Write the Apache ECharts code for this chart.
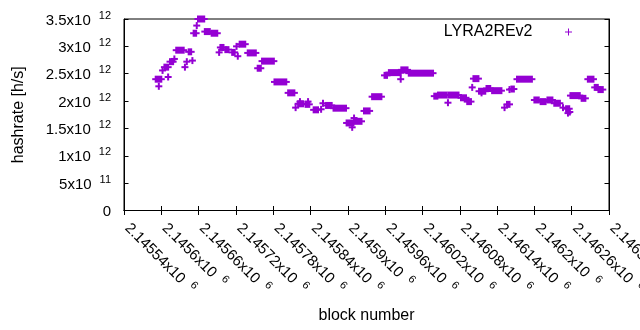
<!DOCTYPE html>
<html>
<head>
<meta charset="utf-8">
<script src="https://cdn.jsdelivr.net/npm/echarts@6/dist/echarts.min.js"></script>
<style>
  html, body { margin: 0; padding: 0; background: #fff; }
  #chart { width: 640px; height: 330px; }
</style>
</head>
<body>
<div id="chart"></div>
<script>
// runs of consecutive blocks that share the same hashrate
const runStart = [2145591, 2145605, 2145614, 2145624, 2145644, 2145652, 2145659, 2145670, 2145681, 2145695,
  2145703, 2145714, 2145726, 2145739, 2145755, 2145762, 2145782, 2145804, 2145820, 2145832,
  2145845, 2145865, 2145877, 2145898, 2145911, 2145926, 2145939, 2145959, 2145966, 2145986,
  2145998, 2146039, 2146045, 2146062, 2146082, 2146092, 2146102, 2146111, 2146123, 2146132,
  2146156, 2146163, 2146172, 2146200, 2146210, 2146221, 2146232, 2146251, 2146258, 2146276,
  2146286, 2146297, 2146303]
const runEnd = [2145600, 2145611, 2145619, 2145636, 2145648, 2145656, 2145669, 2145678, 2145690, 2145700,
  2145708, 2145718, 2145735, 2145752, 2145760, 2145781, 2145801, 2145814, 2145828, 2145838,
  2145852, 2145874, 2145897, 2145909, 2145922, 2145935, 2145954, 2145963, 2145985, 2145996,
  2146037, 2146044, 2146059, 2146078, 2146090, 2146098, 2146110, 2146121, 2146129, 2146147,
  2146160, 2146167, 2146196, 2146207, 2146218, 2146229, 2146241, 2146256, 2146273, 2146282,
  2146295, 2146302, 2146310]
const runRate = [2.40e12, 2.62e12, 2.72e12, 2.93e12, 2.90e12, 3.24e12, 3.50e12, 3.27e12, 3.24e12, 2.98e12,
  2.94e12, 2.89e12, 3.04e12, 2.88e12, 2.60e12, 2.73e12, 2.35e12, 2.15e12, 1.95e12, 1.94e12,
  1.84e12, 1.92e12, 1.87e12, 1.60e12, 1.63e12, 1.82e12, 2.08e12, 2.47e12, 2.52e12, 2.57e12,
  2.51e12, 2.09e12, 2.11e12, 2.11e12, 2.06e12, 1.99e12, 2.41e12, 2.18e12, 2.23e12, 2.19e12,
  1.94e12, 2.22e12, 2.40e12, 2.02e12, 1.99e12, 2.02e12, 1.96e12, 1.86e12, 2.10e12, 2.05e12,
  2.40e12, 2.25e12, 2.21e12]

// isolated blocks
const pointBlock = [2145596, 2145602, 2145611, 2145621, 2145638, 2145641, 2145650, 2145657, 2145693, 2145721,
  2145723, 2145816, 2145823, 2145836, 2145857, 2145860, 2145907, 2145910, 2145985, 2146061,
  2146100, 2146115, 2146152, 2146160, 2146246, 2146254, 2146257]
const pointRate = [2.27e12, 2.56e12, 2.44e12, 2.77e12, 2.62e12, 2.72e12, 2.74e12, 3.38e12, 2.89e12, 3.00e12,
  2.82e12, 1.88e12, 1.99e12, 1.99e12, 1.85e12, 1.96e12, 1.52e12, 1.69e12, 2.40e12, 1.97e12,
  2.25e12, 2.15e12, 1.88e12, 2.21e12, 1.88e12, 1.78e12, 1.80e12]

const seriesName = 'LYRA2REv2'
const purple = '#9400D3'
const font = 'Liberation Sans, Arial, sans-serif'

const data = runStart.map((s, i) => [s, runEnd[i], runRate[i]])
  .concat(pointBlock.map((b, i) => [b, b, pointRate[i]]))

// "+" drawn at each end of a run, the vertical bars merge into a block
const renderItem = (params, api) => {
  const a = api.coord([api.value(0), api.value(2)])
  const b = api.coord([api.value(1), api.value(2)])
  const style = { fill: purple }
  return {
    type: 'group',
    children: [
      { type: 'rect', shape: { x: a[0] - 1, y: a[1] - 3.5, width: b[0] - a[0] + 2, height: 7 }, style },
      { type: 'rect', shape: { x: a[0] - 3.5, y: a[1] - 1, width: b[0] - a[0] + 7, height: 2 }, style }
    ]
  }
}

const sciLabel = (v) => {
  if (v === 0) return '{m|0}'
  const exp = Math.floor(Math.log10(v) + 1e-9)
  const man = parseFloat((v / Math.pow(10, exp)).toFixed(5))
  return '{m|' + man + 'x10}{e|' + exp + '}'
}

const xLabel = (v) => '{x|' + parseFloat((v / 1e6).toFixed(5)) + 'x10}{e|6}'

const rich = {
  m: { fontSize: 15, fontFamily: font, color: '#000', padding: [3, 0, 0, 0] },
  x: { fontSize: 15, fontFamily: font, color: '#000', padding: [3, 0, 0, 6] },
  e: { fontSize: 11, fontFamily: font, color: '#000', verticalAlign: 'top', padding: [0, 0, 0, 8] }
}

const chart = echarts.init(document.getElementById('chart'))
chart.setOption({
  animation: false,
  grid: {
    left: 124, right: 31, top: 19, bottom: 119.5,
    show: true, borderColor: '#000', borderWidth: 1,
    outerBoundsMode: 'none'
  },
  legend: {
    data: [{ name: seriesName, icon: 'path://M0,3H3V0H4V3H7V4H4V7H3V4H0Z' }],
    right: 63, top: 19,
    align: 'right',
    itemWidth: 62, itemHeight: 7,
    textStyle: { fontSize: 16, fontFamily: font, color: '#000' }
  },
  xAxis: [{
    type: 'value',
    min: 2145540, max: 2146320, interval: 60,
    name: 'block number', nameLocation: 'middle', nameGap: 97,
    nameTextStyle: { fontSize: 16, fontFamily: font, color: '#000' },
    axisLine: { lineStyle: { color: '#000' } },
    axisTick: { inside: true, length: 4.5, lineStyle: { color: '#000' } },
    splitLine: { show: false },
    axisLabel: { rotate: -45, margin: 10, formatter: xLabel, rich, showMinLabel: true, showMaxLabel: true, hideOverlap: false }
  }, {
    type: 'value', position: 'top',
    min: 2145540, max: 2146320, interval: 60,
    axisLine: { lineStyle: { color: '#000' } },
    axisTick: { inside: true, length: 4.5, lineStyle: { color: '#000' } },
    axisLabel: { show: false }, splitLine: { show: false }
  }],
  yAxis: [{
    type: 'value',
    min: 0, max: 3.5e12, interval: 5e11,
    name: 'hashrate [h/s]', nameLocation: 'middle', nameGap: 97,
    nameTextStyle: { fontSize: 16, fontFamily: font, color: '#000' },
    axisLine: { show: true, lineStyle: { color: '#000' } },
    axisTick: { show: true, inside: true, length: 4.5, lineStyle: { color: '#000' } },
    splitLine: { show: false },
    axisLabel: { margin: 13, formatter: sciLabel, rich }
  }, {
    type: 'value', position: 'right',
    min: 0, max: 3.5e12, interval: 5e11,
    axisLine: { show: true, lineStyle: { color: '#000' } },
    axisTick: { show: true, inside: true, length: 4.5, lineStyle: { color: '#000' } },
    axisLabel: { show: false }, splitLine: { show: false }
  }],
  series: [{
    name: seriesName,
    type: 'custom',
    renderItem,
    itemStyle: { color: purple },
    encode: { x: [0, 1], y: 2 },
    data
  }]
})
</script>
</body>
</html>
